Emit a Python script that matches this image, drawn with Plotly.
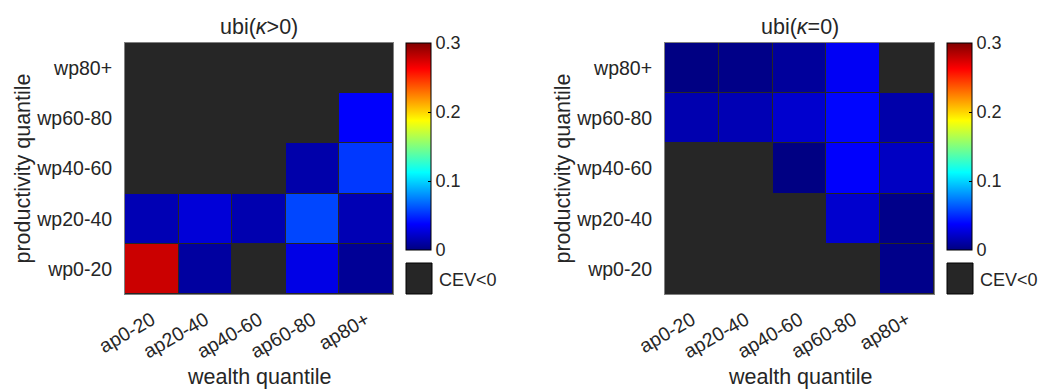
import plotly.graph_objects as go

wealth = ["ap0-20", "ap20-40", "ap40-60", "ap60-80", "ap80+"]
productivity = ["wp0-20", "wp20-40", "wp40-60", "wp60-80", "wp80+"]  # bottom to top

# CEV values, None = CEV<0
cev_kappa_pos = [
    [0.278, 0.0095, None, 0.030, 0.0066],   # wp0-20
    [0.0155, 0.026, 0.014, 0.058, 0.0155],  # wp20-40
    [None, None, None, 0.0125, 0.054],      # wp40-60
    [None, None, None, None, 0.037],        # wp60-80
    [None, None, None, None, None],         # wp80+
]
cev_kappa_zero = [
    [None, None, None, None, 0.003],
    [None, None, None, 0.023, 0.003],
    [None, None, 0.001, 0.037, 0.0196],
    [0.014, 0.0155, 0.023, 0.039, 0.0125],
    [0.001, 0.0023, 0.008, 0.0345, None],
]
titles = ["ubi(<i>κ</i>>0)", "ubi(<i>κ</i>=0)"]
cbar_ticks = [0, 0.1, 0.2, 0.3]

jet = [
    [0.0, "rgb(0,0,128)"],
    [0.125, "rgb(0,0,255)"],
    [0.375, "rgb(0,255,255)"],
    [0.625, "rgb(255,255,0)"],
    [0.875, "rgb(255,0,0)"],
    [1.0, "rgb(128,0,0)"],
]

W, H = 1040, 392
def px(x): return x / W
def py(y): return 1 - y / H

TXT = "#262626"
FONT = "Liberation Sans, Arial, sans-serif"
DARK = "#262626"
TICK = 19.5
LAB = 21.5

fig = go.Figure()

panels = [
    dict(data=cev_kappa_pos, x0=125, x1=393, cb=406, title=titles[0]),
    dict(data=cev_kappa_zero, x0=665, x1=934, cb=947, title=titles[1]),
]
top, bot = 43, 294
cb_bot = 250
for i, p in enumerate(panels):
    xa = "x" if i == 0 else "x2"
    ya = "y" if i == 0 else "y2"
    fig.add_trace(go.Heatmap(
        z=p["data"], x=wealth, y=productivity, xaxis=xa, yaxis=ya,
        colorscale=jet, zmin=0, zmax=0.3, xgap=1, ygap=1,
        hoverongaps=False,
        colorbar=dict(
            x=px(p["cb"]), xanchor="left", xpad=0, ypad=0,
            y=py(top), yanchor="top", len=(cb_bot - top) / H, lenmode="fraction",
            thickness=25, thicknessmode="pixels",
            outlinecolor="black", outlinewidth=1,
            tickvals=cbar_ticks, ticktext=["0", "0.1", "0.2", "0.3"],
            ticks="inside", ticklen=3, tickcolor="black",
            tickfont=dict(size=18, color=TXT, family=FONT),
        ),
    ))
    axx = dict(domain=[px(p["x0"]), px(p["x1"])], anchor=ya, tickangle=-30,
               showline=True, mirror=True, linecolor="#808080", linewidth=1,
               ticks="", showgrid=False, zeroline=False, automargin=False,
               ticklabelstandoff=6,
               tickfont=dict(size=TICK, color=TXT, family=FONT),
               categoryorder="array", categoryarray=wealth, fixedrange=True)
    axy = dict(domain=[py(bot), py(top)], anchor=xa, automargin=False,
               showline=True, mirror=True, linecolor="#808080", linewidth=1,
               ticks="", showgrid=False, zeroline=False, ticklabelstandoff=8,
               tickfont=dict(size=TICK, color=TXT, family=FONT),
               categoryorder="array", categoryarray=productivity, fixedrange=True)
    if i == 0:
        fig.update_layout(xaxis=axx, yaxis=axy)
    else:
        fig.update_layout(xaxis2=axx, yaxis2=axy)

    # CEV<0 legend box
    fig.add_shape(type="rect", xref="paper", yref="paper",
                  x0=px(p["cb"]), x1=px(p["cb"] + 26), y0=py(294), y1=py(263),
                  fillcolor=DARK, line=dict(color="black", width=1))
    fig.add_annotation(x=px(p["cb"] + 31), y=py(280), xref="paper", yref="paper",
                       text="CEV<0", showarrow=False, xanchor="left", yanchor="middle",
                       font=dict(size=18, color=TXT, family=FONT))
    cx = (p["x0"] + p["x1"]) / 2
    fig.add_annotation(x=px(cx), y=py(27), xref="paper", yref="paper",
                       text=p["title"], showarrow=False, xanchor="center", yanchor="middle",
                       font=dict(size=LAB, color=TXT, family=FONT))
    fig.add_annotation(x=px(cx), y=py(377), xref="paper", yref="paper",
                       text="wealth quantile", showarrow=False, xanchor="center", yanchor="middle",
                       font=dict(size=LAB, color=TXT, family=FONT))
    fig.add_annotation(x=px(p["x0"] - 103), y=py((top + bot) / 2), xref="paper", yref="paper",
                       text="productivity quantile", showarrow=False, textangle=-90,
                       xanchor="center", yanchor="middle",
                       font=dict(size=LAB, color=TXT, family=FONT))

fig.update_layout(
    width=W, height=H, margin=dict(l=0, r=0, t=0, b=0, autoexpand=False),
    paper_bgcolor="white", plot_bgcolor=DARK,
    font=dict(family=FONT, color=TXT),
)
fig.write_html("out.html")
